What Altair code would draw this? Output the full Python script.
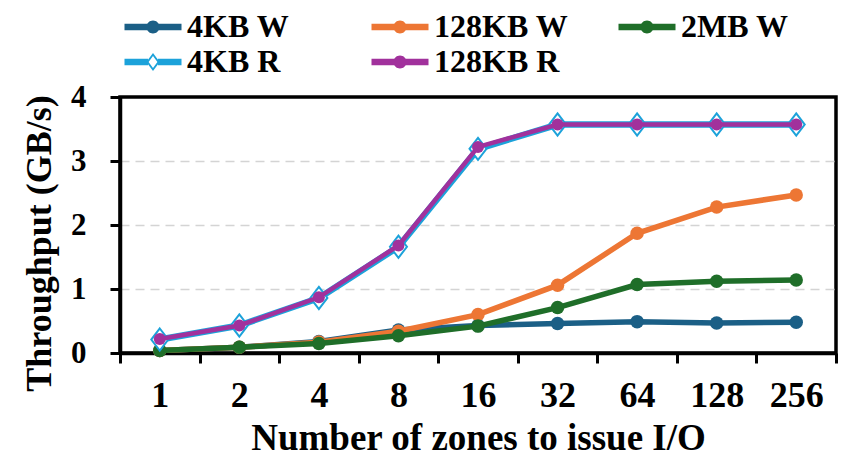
import altair as alt
import pandas as pd

FONT = "Liberation Serif"

zones = ["1", "2", "4", "8", "16", "32", "64", "128", "256"]
series = ["4KB W", "128KB W", "2MB W", "4KB R", "128KB R"]
colors = ["#1b5f86", "#ed7634", "#1f6e29", "#1ca2da", "#a1319c"]

w4k = [0.04, 0.09, 0.18, 0.36, 0.43, 0.46, 0.49, 0.47, 0.48]
w128k = [0.04, 0.09, 0.17, 0.34, 0.60, 1.06, 1.87, 2.28, 2.47]
w2m = [0.04, 0.09, 0.15, 0.27, 0.42, 0.71, 1.07, 1.12, 1.14]
r4k = [0.21, 0.43, 0.86, 1.66, 3.19, 3.57, 3.57, 3.57, 3.57]
r128k = [0.22, 0.43, 0.87, 1.68, 3.22, 3.57, 3.57, 3.57, 3.57]
all_values = [w4k, w128k, w2m, r4k, r128k]

line_widths = [5.5, 5.5, 5.5, 6.5, 4.5]

rows = []
for s, vals in zip(series, all_values):
    for z, v in zip(zones, vals):
        rows.append({"series": s, "zones": z, "throughput": v})
df = pd.DataFrame(rows)

# legend symbol paths: line segment with a marker
circle_sym = ("M-2.85,-0.33H2.85V0.33H-2.85Z"
              "M0.65,0A0.65,0.65 0 1,1 -0.65,0A0.65,0.65 0 1,1 0.65,0Z")
diamond_sym = ("M-2.85,-0.33H-0.5V0.33H-2.85Z"
               "M0.5,-0.33H2.85V0.33H0.5Z"
               "M0,-0.9L0.67,0L0,0.9L-0.67,0Z"
               "M0,-0.6L-0.44,0L0,0.6L0.44,0Z")
legend_paths = [circle_sym, circle_sym, circle_sym, diamond_sym, circle_sym]
plot_diamond = "M0,-1.3L1,0L0,1.3L-1,0Z"

edge_test = "datum.value == 0 || datum.value == 4"

x_enc = alt.X(
    "zones:O",
    sort=zones,
    scale=alt.Scale(type="band", domain=zones, paddingInner=0, paddingOuter=0),
    axis=alt.Axis(
        title="Number of zones to issue I/O",
        labelAngle=0,
        tickBand="extent",
        tickSize=10,
        tickWidth=3,
        labelFontSize=36,
        labelBaseline="middle",
        labelPadding=32,
        titleFontSize=37,
        titleX=358,
        titleY=85,
        titleAlign="center",
        titleBaseline="middle",
        grid=False,
    ),
)
y_enc = alt.Y(
    "throughput:Q",
    scale=alt.Scale(domain=[0, 4], nice=False),
    axis=alt.Axis(
        title="Throughput (GB/s)",
        values=[0, 1, 2, 3, 4],
        format="d",
        tickSize=10,
        tickWidth=3,
        labelFontSize=31,
        labelPadding=24,
        titleFontSize=36,
        titleAngle=270,
        titleX=-81,
        titleY=146,
        titleAlign="center",
        titleBaseline="middle",
        grid=True,
        gridColor="#d4d4d4",
        gridDash=[9, 6],
        gridWidth=1.5,
        gridOpacity=alt.condition(edge_test, alt.value(0), alt.value(1)),
    ),
)

layers = []
for i, s in enumerate(series):
    base = alt.Chart(df).transform_filter(alt.datum.series == s)
    layers.append(
        base.mark_line(color=colors[i], strokeWidth=line_widths[i], opacity=1).encode(x=x_enc, y=y_enc)
    )
    if s == "4KB R":
        pts = base.mark_point(shape=plot_diamond, size=289, filled=True, fill="white",
                              stroke=colors[i], strokeWidth=2, opacity=1)
    elif s == "128KB R":
        pts = base.mark_point(shape="circle", size=144, filled=True, color=colors[i], opacity=1)
    else:
        pts = base.mark_point(shape="circle", size=182, filled=True, color=colors[i], opacity=1)
    layers.append(pts.encode(x=x_enc, y=y_enc))

legend_layer = alt.Chart(df).transform_filter("false").mark_point(
    filled=True, opacity=1, strokeWidth=0
).encode(
    x=x_enc,
    y=y_enc,
    fill=alt.Fill("series:N", scale=alt.Scale(domain=series, range=colors),
                  legend=alt.Legend(title=None)),
    shape=alt.Shape("series:N", scale=alt.Scale(domain=series, range=legend_paths),
                    legend=alt.Legend(title=None)),
)
layers.append(legend_layer)

chart = alt.layer(*layers).properties(
    width=716,
    height=256,
    padding={"left": 112, "top": 89, "right": 2, "bottom": 105},
    autosize=alt.AutoSizeParams(type="none"),
    background="white",
).configure_view(
    stroke="black", strokeWidth=3.5
).configure_axis(
    labelFont=FONT, titleFont=FONT, labelFontWeight="bold", titleFontWeight="bold",
    labelColor="black", titleColor="black", domainColor="black", tickColor="black",
    domainWidth=3.5,
).configure_legend(
    orient="none", legendX=5, legendY=-86, direction="horizontal", columns=3, gridAlign="all",
    columnPadding=49, rowPadding=3, symbolSize=400, symbolStrokeWidth=0,
    symbolOffset=12, labelOffset=18, labelFont=FONT, labelFontSize=32,
    labelFontWeight="bold", labelColor="black", labelLimit=400, padding=0,
)

chart.save("out.html", embed_options={"renderer": "svg", "actions": False})
